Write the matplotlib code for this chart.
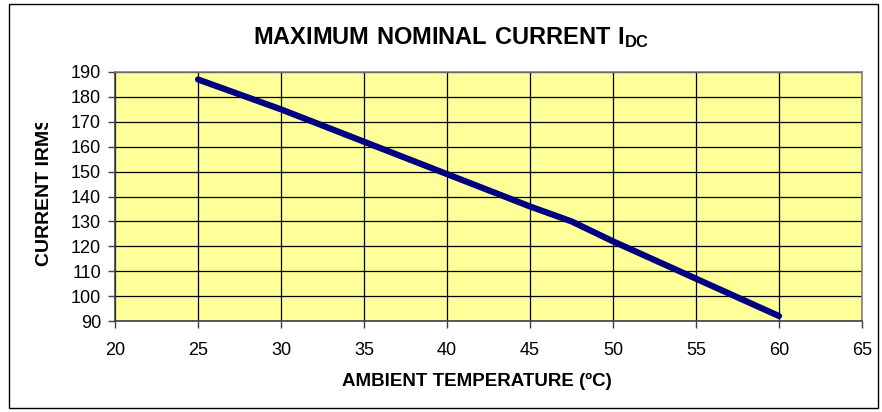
import matplotlib
matplotlib.use("Agg")
import matplotlib.pyplot as plt
from matplotlib.patches import Rectangle

# datos
temperatura = [25, 30, 35, 40, 45, 47.5, 50, 55, 60]
corriente = [187, 175, 162, 149, 136, 130, 122, 107, 92]
x_ticks = [20, 25, 30, 35, 40, 45, 50, 55, 60, 65]
y_ticks = [90, 100, 110, 120, 130, 140, 150, 160, 170, 180, 190]

plt.rcParams['font.family'] = ['Liberation Sans', 'DejaVu Sans']
plt.rcParams['mathtext.fontset'] = 'custom'
plt.rcParams['mathtext.rm'] = 'Liberation Sans'
plt.rcParams['mathtext.bf'] = 'Liberation Sans:bold'

W, H = 882, 412
fig = plt.figure(figsize=(W / 100, H / 100), dpi=100)
ax = fig.add_axes([115 / W, 1 - 321 / H, (862 - 115) / W, (321 - 72) / H])
ax.set_facecolor('#FFFF99')

ax.plot(temperatura, corriente, color='#000080', linewidth=4.5,
        solid_capstyle='round', solid_joinstyle='round', zorder=3)

ax.set_xlim(20, 65)
ax.set_ylim(90, 190)
ax.set_xticks(x_ticks)
ax.set_yticks(y_ticks)
ax.grid(True, color='black', linewidth=0.9)
ax.set_axisbelow(True)
ax.tick_params(axis='both', labelsize=13, length=5, width=1, color='#404040')
ax.tick_params(axis='x', pad=10)
ax.tick_params(axis='y', pad=5)
for s in ax.spines.values():
    s.set_color('#808080')
    s.set_linewidth(1.2)
ax.spines['bottom'].set_color('#404040')
ax.spines['left'].set_color('#404040')

fig.text(451 / W, 1 - 38 / H, r"$\mathbf{MAXIMUM\ NOMINAL\ CURRENT\ I_{DC}}$",
         ha='center', va='center', fontsize=17)
fig.text(477 / W, 1 - 381 / H, "AMBIENT TEMPERATURE (ºC)",
         ha='center', va='center', fontsize=13.5, fontweight='bold')

# etiqueta del eje y recortada como en el original
ylab = fig.text(45 / W, 1 - 266 / H, "CURRENT IRMS", rotation=90,
                ha='center', va='bottom', fontsize=14, fontweight='bold')
clip = Rectangle((0, 0), 1, 1 - 123 / H, transform=fig.transFigure)
ylab.set_clip_path(clip)

borde = Rectangle((9 / W, 4 / H), 1 - 13 / W, 1 - 8 / H, transform=fig.transFigure,
                  fill=False, edgecolor='black', linewidth=1)
fig.add_artist(borde)

fig.savefig('out.png', dpi=100)
